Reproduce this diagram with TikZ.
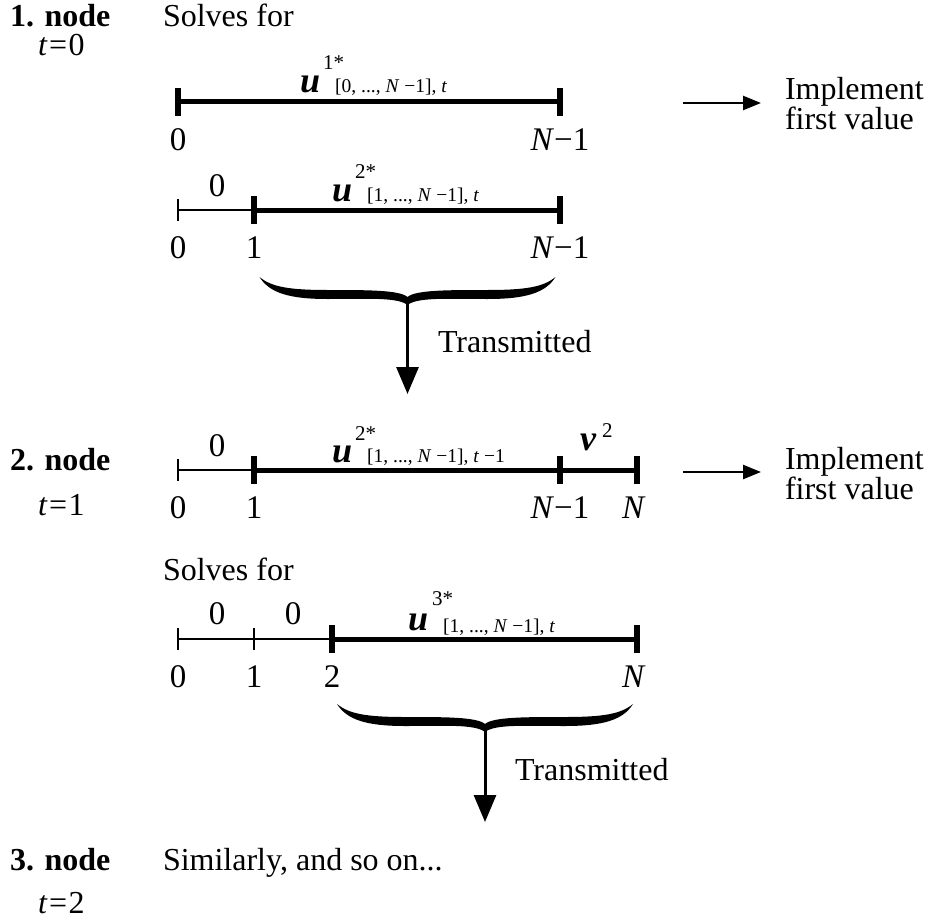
\documentclass[tikz,border=0pt]{standalone}
\usepackage{fontspec}
\setmainfont{Liberation Serif}
\usetikzlibrary{arrows.meta}
\newcommand{\teq}[1]{\textit{t}\kern1.5pt=\kern1.5pt#1}
\begin{document}
\begin{tikzpicture}[x=1pt,y=-1pt,
 txt/.style={font=\fontsize{32}{30}\selectfont, inner sep=0pt, outer sep=0pt, anchor=base west},
 lbl/.style={font=\fontsize{33}{30}\selectfont, inner sep=0pt, outer sep=0pt, anchor=base},
 uvar/.style={font=\fontsize{36}{36}\selectfont\bfseries\itshape, inner sep=0pt, anchor=base west},
 supv/.style={font=\fontsize{21}{21}\selectfont, inner sep=0pt, anchor=base west},
 subv/.style={font=\fontsize{19.5}{19.5}\selectfont, inner sep=0pt, anchor=base west},
 thickseg/.style={line width=5pt},
 thinseg/.style={line width=1.4pt},
 thicktick/.style={line width=6pt},
 thintick/.style={line width=1.4pt},
 harrow/.style={line width=2.5pt, -{Triangle[length=18pt,width=14pt]}},
 varrow/.style={line width=3pt, -{Triangle[length=27pt,width=22pt]}},
 bracefill/.style={fill=black}]
\useasboundingbox (0,0) rectangle (931,923);
% ---------- left column ----------
\node[txt] (n1) at (10,27) {\textbf{1. node}};
\node[txt] (t0) at (38,56) {\teq{0}};
\node[txt] (sf1) at (163,27) {Solves for};
\node[txt] (n2) at (10,470) {\textbf{2. node}};
\node[txt] (t1) at (38,515) {\teq{1}};
\node[txt] (n3) at (10,870) {\textbf{3. node}};
\node[txt] (t2) at (38,913) {\teq{2}};
\node[txt] (sim) at (163,870) {Similarly, and so on...};
\node[txt] (sf2) at (163,580) {Solves for};
% ---------- line 1 ----------
\coordinate (a0) at (178,102);
\coordinate (a1) at (560,102);
\draw[thickseg] (a0) -- (a1);
\draw[thicktick] ([yshift=14pt]a0) -- ([yshift=-14pt]a0);
\draw[thicktick] ([yshift=14pt]a1) -- ([yshift=-14pt]a1);
\node[lbl] (la0) at (178,150) {0};
\node[lbl] (la1) at (560,150) {\textit{N}−1};
\node[uvar] (u1) at (300,93) {u};
\node[supv] (u1s) at (323,70) {1*};
\node[subv] (u1b) at (335,93) {[0, ..., \textit{N} −1], \textit{t}};
\coordinate (ar1s) at (683,103);
\coordinate (ar1e) at (761,103);
\draw[harrow] (ar1s) -- (ar1e);
\node[txt] (imp1) at (785,100) {Implement};
\node[txt] (fv1) at (785,130) {first value};
% ---------- line 2 ----------
\coordinate (b0) at (178,210);
\coordinate (b1) at (254,210);
\coordinate (b2) at (560,210);
\draw[thinseg] (b0) -- (b1);
\draw[thickseg] (b1) -- (b2);
\draw[thintick] ([yshift=11pt]b0) -- ([yshift=-11pt]b0);
\draw[thicktick] ([yshift=14pt]b1) -- ([yshift=-14pt]b1);
\draw[thicktick] ([yshift=14pt]b2) -- ([yshift=-14pt]b2);
\node[lbl] (lb0) at (178,258) {0};
\node[lbl] (lb1) at (254,258) {1};
\node[lbl] (lb2) at (560,258) {\textit{N}−1};
\node[lbl] (zb) at (217,196) {0};
\node[uvar] (u2) at (332,201) {u};
\node[supv] (u2s) at (355,178) {2*};
\node[subv] (u2b) at (367,201) {[1, ..., \textit{N} −1], \textit{t}};
% brace 1
\begin{scope}[shift={(407.5,277)}]
\fill[bracefill] (-148,0) .. controls (-138,16) and (-118,22) .. (-80,22)
  .. controls (-40,22) and (-10,20) .. (0,28)
  .. controls (10,20) and (40,22) .. (80,22)
  .. controls (118,22) and (138,16) .. (148,0)
  .. controls (136,10) and (118,13) .. (80,13)
  .. controls (40,13) and (8,13) .. (0,20)
  .. controls (-8,13) and (-40,13) .. (-80,13)
  .. controls (-118,13) and (-136,10) .. (-148,0) -- cycle;
\coordinate (br1) at (0,24);
\end{scope}
\coordinate (ar2e) at (407.5,394);
\draw[varrow] (br1) -- (ar2e);
\node[txt] (tr1) at (438,352) {Transmitted};
% ---------- line 3 ----------
\coordinate (c0) at (178,470);
\coordinate (c1) at (254,470);
\coordinate (c2) at (560,470);
\coordinate (c3) at (637,470);
\draw[thinseg] (c0) -- (c1);
\draw[thickseg] (c1) -- (c3);
\draw[thintick] ([yshift=11pt]c0) -- ([yshift=-11pt]c0);
\draw[thicktick] ([yshift=14pt]c1) -- ([yshift=-14pt]c1);
\draw[thicktick] ([yshift=14pt]c2) -- ([yshift=-14pt]c2);
\draw[thicktick] ([yshift=14pt]c3) -- ([yshift=-14pt]c3);
\node[lbl] (lc0) at (178,518) {0};
\node[lbl] (lc1) at (254,518) {1};
\node[lbl] (lc2) at (560,518) {\textit{N}−1};
\node[lbl] (lc3) at (634,518) {\textit{N}};
\node[lbl] (zc) at (217,456) {0};
\node[uvar] (u3) at (332,462) {u};
\node[supv] (u3s) at (355,440) {2*};
\node[subv] (u3b) at (367,462) {[1, ..., \textit{N} −1], \textit{t} −1};
\node[uvar] (v3) at (580,450) {v};
\node[supv] (v3s) at (602,437) {2};
\coordinate (ar3s) at (683,472);
\coordinate (ar3e) at (761,472);
\draw[harrow] (ar3s) -- (ar3e);
\node[txt] (imp2) at (785,469) {Implement};
\node[txt] (fv2) at (785,499) {first value};
% ---------- line 4 ----------
\coordinate (d0) at (178,639);
\coordinate (d1) at (254,639);
\coordinate (d2) at (332,639);
\coordinate (d3) at (637,639);
\draw[thinseg] (d0) -- (d2);
\draw[thickseg] (d2) -- (d3);
\draw[thintick] ([yshift=11pt]d0) -- ([yshift=-11pt]d0);
\draw[thintick] ([yshift=11pt]d1) -- ([yshift=-11pt]d1);
\draw[thicktick] ([yshift=14pt]d2) -- ([yshift=-14pt]d2);
\draw[thicktick] ([yshift=14pt]d3) -- ([yshift=-14pt]d3);
\node[lbl] (ld0) at (178,687) {0};
\node[lbl] (ld1) at (254,687) {1};
\node[lbl] (ld2) at (332,687) {2};
\node[lbl] (ld3) at (634,687) {\textit{N}};
\node[lbl] (zd1) at (217,624) {0};
\node[lbl] (zd2) at (293,624) {0};
\node[uvar] (u4) at (408,630) {u};
\node[supv] (u4s) at (432,605) {3*};
\node[subv] (u4b) at (443,632) {[1, ..., \textit{N} −1], \textit{t}};
% brace 2
\begin{scope}[shift={(485,704)}]
\fill[bracefill] (-148,0) .. controls (-138,16) and (-118,22) .. (-80,22)
  .. controls (-40,22) and (-10,20) .. (0,28)
  .. controls (10,20) and (40,22) .. (80,22)
  .. controls (118,22) and (138,16) .. (148,0)
  .. controls (136,10) and (118,13) .. (80,13)
  .. controls (40,13) and (8,13) .. (0,20)
  .. controls (-8,13) and (-40,13) .. (-80,13)
  .. controls (-118,13) and (-136,10) .. (-148,0) -- cycle;
\coordinate (br2) at (0,24);
\end{scope}
\coordinate (ar4e) at (485,822);
\draw[varrow] (br2) -- (ar4e);
\node[txt] (tr2) at (515,780) {Transmitted};
\end{tikzpicture}
\end{document}
